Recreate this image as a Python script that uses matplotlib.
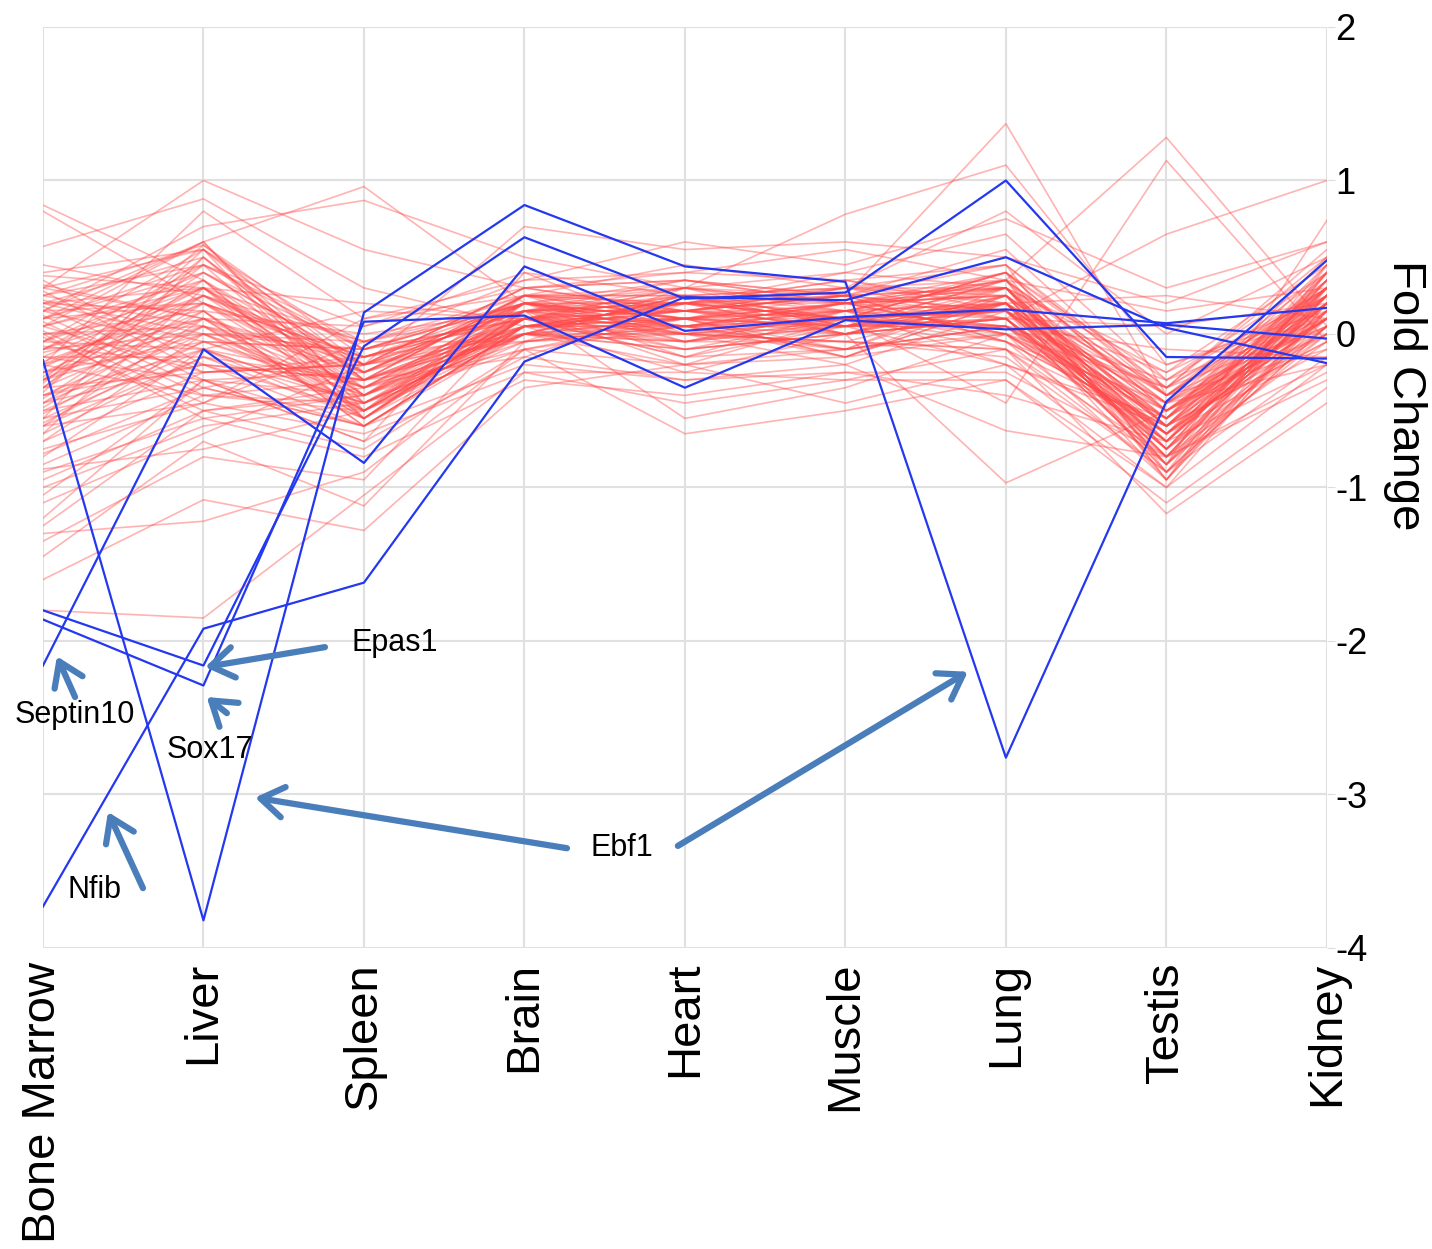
import matplotlib
matplotlib.use("Agg")
import matplotlib.pyplot as plt
import matplotlib.transforms as mtransforms

plt.rcParams['font.family'] = ['Liberation Sans', 'DejaVu Sans']

tissues = ["Bone Marrow", "Liver", "Spleen", "Brain", "Heart",
           "Muscle", "Lung", "Testis", "Kidney"]
y_ticks = [-4, -3, -2, -1, 0, 1, 2]

# highlighted genes (blue)
septin10 = [-2.16, -0.10, -0.84, 0.44, 0.02, 0.11, 0.16, 0.07, 0.17]
epas1 = [-1.80, -2.16, -0.08, 0.63, 0.23, 0.27, 1.00, -0.15, -0.16]
sox17 = [-1.86, -2.29, 0.08, 0.12, -0.35, 0.09, 0.03, 0.06, -0.03]
nfib = [-3.73, -1.92, -1.62, -0.18, 0.24, 0.22, 0.50, 0.04, -0.19]
ebf1 = [-0.17, -3.82, 0.14, 0.84, 0.44, 0.34, -2.76, -0.44, 0.48]

# background genes (red)
red_lines = [
    [0.84, 0.35, -0.55, 0.10, 0.05, 0.20, 0.30, -0.60, 0.20],
    [0.80, 0.20, -0.30, 0.25, 0.10, 0.05, 0.15, -0.70, 0.30],
    [0.57, 0.88, 0.30, 0.05, 0.20, 0.10, 0.40, -0.50, 0.10],
    [0.30, 1.00, 0.55, 0.30, 0.35, 0.25, 0.55, -0.40, 0.25],
    [0.10, 0.60, 0.96, 0.20, 0.15, 0.05, 0.20, -0.65, 0.05],
    [0.15, 0.70, 0.87, 0.50, 0.30, 0.40, 0.65, -0.30, 0.40],
    [-0.20, 0.80, 0.10, 0.35, 0.60, 0.45, 0.75, 0.30, 0.60],
    [0.05, 0.30, 0.20, 0.10, 0.30, 0.78, 1.10, -0.20, 0.10],
    [0.20, 0.15, 0.00, 0.15, 0.20, 0.25, 1.37, -0.40, 0.30],
    [-0.10, 0.25, -0.20, 0.30, 0.40, 0.55, 0.35, 1.28, 0.05],
    [-0.30, 0.00, -0.40, 0.05, 0.15, 0.10, -0.45, 1.13, -0.05],
    [0.25, 0.45, -0.10, 0.20, 0.10, 0.20, 0.10, 0.65, 1.00],
    [-0.40, -0.10, -0.30, 0.00, -0.10, 0.00, -0.97, -0.50, 0.10],
    [-0.55, -0.35, -0.60, -0.20, -0.30, -0.20, -0.63, -0.80, -0.30],
    [-1.80, -1.85, -1.05, -0.25, -0.45, -0.30, -0.10, -1.17, -0.45],
    [-1.30, -1.22, -0.90, -0.10, -0.65, -0.50, -0.30, -1.10, -0.35],
    [-1.60, -1.08, -1.28, -0.35, -0.20, -0.45, -0.20, -1.00, 0.20],
    [-1.45, -0.70, -1.12, -0.05, 0.05, -0.15, 0.20, -0.90, 0.40],
    [-1.35, -0.80, -0.95, 0.15, -0.55, -0.35, 0.00, -0.95, 0.15],
    [-1.20, -0.30, -0.70, 0.40, 0.00, 0.10, 0.30, -0.85, 0.74],
    [0.40, 0.55, -0.20, 0.70, 0.55, 0.60, 0.50, 0.20, 0.60],
    [-0.90, -0.55, -0.80, -0.30, -0.40, -0.25, -0.40, -0.70, -0.20],
    [-1.00, -0.60, -0.45, 0.00, 0.20, 0.35, 0.20, -0.60, 0.30],
    [-0.75, -0.45, 0.10, 0.25, 0.45, 0.30, 0.80, 0.00, 0.50],
    [0.30, 0.55, -0.10, 0.20, 0.10, 0.05, 0.25, -0.55, 0.30],
    [0.25, 0.58, -0.25, 0.10, -0.05, 0.15, 0.10, -0.70, 0.20],
    [0.20, 0.50, -0.30, 0.05, 0.20, 0.00, 0.30, -0.45, 0.10],
    [0.10, 0.45, -0.45, 0.15, 0.05, -0.10, 0.05, -0.80, 0.25],
    [0.05, 0.60, -0.50, 0.25, 0.25, 0.20, 0.35, -0.60, 0.35],
    [-0.05, 0.40, -0.20, 0.00, -0.10, 0.10, 0.20, -0.35, 0.05],
    [-0.10, 0.35, -0.35, 0.10, 0.15, 0.25, 0.15, -0.75, 0.40],
    [-0.15, 0.30, -0.55, 0.20, 0.00, -0.05, -0.10, -0.90, 0.15],
    [-0.20, 0.25, -0.40, -0.05, 0.30, 0.15, 0.40, -0.50, 0.20],
    [-0.25, 0.20, -0.15, 0.15, -0.20, -0.15, 0.00, -0.65, -0.10],
    [-0.30, 0.15, -0.60, 0.05, 0.10, 0.30, 0.25, -0.40, 0.30],
    [-0.35, 0.10, -0.25, 0.20, 0.20, 0.00, 0.10, -0.85, 0.00],
    [-0.40, 0.05, -0.50, 0.10, -0.15, 0.05, -0.20, -0.55, 0.25],
    [-0.45, 0.00, -0.35, -0.10, 0.05, 0.20, 0.30, -0.70, 0.45],
    [-0.50, -0.05, -0.10, 0.25, 0.25, 0.10, 0.05, -0.30, 0.10],
    [-0.55, -0.10, -0.45, 0.00, 0.00, -0.20, 0.15, -0.95, 0.20],
    [-0.60, -0.15, -0.55, 0.15, 0.15, 0.25, -0.05, -0.60, -0.05],
    [0.35, -0.20, -0.30, 0.05, -0.25, 0.00, 0.20, -0.45, 0.35],
    [0.28, -0.25, -0.20, -0.05, 0.10, 0.15, 0.35, -0.75, 0.15],
    [0.18, -0.30, -0.40, 0.20, 0.05, -0.10, 0.00, -0.50, 0.30],
    [0.12, -0.35, -0.15, 0.10, 0.30, 0.20, 0.25, -0.80, 0.05],
    [0.08, -0.40, -0.50, 0.00, -0.05, 0.05, 0.10, -0.65, 0.25],
    [0.02, -0.45, -0.05, 0.25, 0.20, 0.35, 0.45, -0.40, 0.40],
    [-0.02, -0.50, -0.35, 0.15, 0.00, -0.05, -0.15, -0.90, -0.15],
    [-0.08, -0.20, -0.60, 0.05, 0.10, 0.10, 0.15, -0.55, 0.10],
    [-0.12, 0.10, -0.20, 0.30, 0.35, 0.25, 0.30, -0.70, 0.20],
    [-0.18, 0.20, -0.45, -0.10, -0.20, -0.10, 0.05, -0.35, 0.30],
    [-0.22, 0.30, -0.30, 0.10, 0.15, 0.05, 0.20, -0.60, -0.05],
    [-0.28, 0.40, -0.10, 0.20, 0.05, 0.15, -0.05, -0.85, 0.25],
    [-0.32, 0.50, -0.40, 0.00, 0.25, 0.30, 0.35, -0.45, 0.15],
    [-0.38, 0.55, -0.55, 0.15, -0.10, 0.00, 0.10, -0.75, 0.35],
    [-0.42, 0.25, -0.25, 0.25, 0.10, -0.15, 0.25, -0.50, 0.00],
    [-0.48, 0.15, -0.50, 0.05, 0.20, 0.20, 0.00, -0.65, 0.20],
    [-0.52, 0.05, -0.15, 0.10, 0.00, 0.10, 0.40, -0.95, 0.45],
    [-0.58, -0.05, -0.35, 0.20, 0.30, 0.25, 0.15, -0.55, 0.10],
    [-0.65, -0.15, -0.45, 0.00, -0.05, -0.05, -0.10, -0.80, 0.30],
    [-0.70, -0.25, -0.20, 0.15, 0.15, 0.15, 0.20, -0.40, -0.10],
    [-0.78, -0.35, -0.60, 0.05, 0.05, 0.05, 0.05, -0.70, 0.25],
    [-0.85, -0.40, -0.30, -0.15, 0.20, 0.30, 0.30, -0.60, 0.15],
    [0.32, 0.10, 0.05, 0.30, 0.15, 0.10, 0.15, -0.50, 0.05],
    [0.22, 0.00, -0.10, 0.10, 0.00, 0.20, 0.40, -0.30, 0.30],
    [0.15, 0.20, -0.35, 0.00, 0.25, 0.00, 0.10, -0.75, 0.20],
    [0.00, 0.05, -0.25, 0.20, 0.10, 0.25, -0.05, -0.60, 0.40],
    [-0.05, -0.10, -0.45, 0.10, -0.15, -0.10, 0.25, -0.85, 0.10],
    [-0.10, 0.00, -0.05, -0.05, 0.05, 0.10, 0.15, -0.45, -0.20],
    [-0.15, -0.15, -0.30, 0.25, 0.20, 0.15, 0.30, -0.65, 0.25],
    [-0.20, 0.10, -0.55, 0.15, 0.35, 0.20, 0.00, -0.55, 0.35],
    [-0.25, -0.05, -0.40, 0.05, 0.00, -0.05, 0.20, -0.90, 0.05],
    [-0.30, 0.25, -0.15, 0.20, 0.10, 0.05, 0.35, -0.40, 0.20],
    [-0.35, 0.35, -0.50, 0.10, 0.25, 0.30, 0.10, -0.70, 0.30],
    [-0.40, -0.20, -0.30, 0.00, -0.20, 0.10, -0.10, -0.60, 0.15],
    [-0.45, 0.20, -0.20, 0.30, 0.15, 0.00, 0.25, -0.80, -0.05],
    [-0.10, 0.45, -0.05, 0.15, 0.20, 0.25, 0.45, -0.35, 0.50],
    [0.10, 0.40, -0.20, 0.05, -0.05, 0.15, 0.20, -0.65, 0.10],
    [0.20, 0.30, -0.40, 0.25, 0.30, 0.05, 0.05, -0.50, 0.25],
    [-0.05, 0.55, -0.30, 0.10, 0.10, -0.10, 0.30, -0.75, 0.35],
    [-0.30, 0.58, -0.15, 0.00, 0.05, 0.20, 0.15, -0.45, 0.00],
    [-0.60, 0.10, -0.35, 0.20, 0.20, 0.10, 0.00, -0.70, 0.20],
    [-0.70, 0.00, -0.50, 0.10, -0.10, 0.00, 0.25, -0.55, 0.45],
    [-0.50, -0.30, -0.25, 0.25, 0.15, 0.25, 0.10, -0.85, 0.15],
    [-0.20, -0.40, -0.45, 0.05, 0.05, 0.15, -0.20, -0.60, 0.30],
    [0.05, -0.25, -0.15, 0.15, 0.25, 0.05, 0.35, -0.40, 0.05],
    [0.25, 0.05, -0.55, 0.00, 0.10, -0.15, 0.20, -0.80, 0.25],
    [0.38, 0.30, -0.25, 0.20, -0.05, 0.10, 0.05, -0.65, 0.40],
    [-0.95, -0.50, -0.40, 0.10, 0.10, 0.20, 0.25, -0.50, 0.20],
    [-1.05, -0.30, -0.60, 0.00, 0.25, 0.05, 0.15, -0.75, 0.00],
    [-1.10, -0.65, -0.20, 0.20, -0.15, 0.15, 0.35, -0.95, 0.30],
    [-0.88, -0.75, -0.50, -0.05, 0.00, -0.10, 0.05, -0.55, 0.50],
    [0.45, 0.25, -0.05, 0.35, 0.40, 0.35, 0.15, -0.25, 0.25],
    [0.15, -0.10, 0.15, 0.10, 0.20, 0.40, 0.30, -0.20, 0.15],
    [-0.35, 0.45, 0.05, 0.40, 0.25, 0.10, 0.40, -0.35, 0.55],
    [-0.15, -0.30, -0.70, -0.15, -0.30, -0.25, -0.25, -0.80, -0.25],
    [-0.60, -0.45, -0.65, -0.25, -0.25, -0.30, -0.30, -1.00, -0.20],
    [0.00, 0.15, -0.60, 0.05, 0.15, 0.30, 0.45, -0.90, 0.05],
    [0.10, 0.20, -0.15, 0.15, 0.05, 0.10, 0.20, 0.25, 0.10],
    [-0.25, 0.05, -0.35, 0.00, 0.10, 0.20, 0.35, 0.15, 0.30],
    [0.20, -0.05, -0.10, 0.10, 0.25, 0.15, 0.05, -0.10, -0.15],
    [-0.45, -0.20, -0.50, 0.20, 0.00, 0.05, 0.10, 0.05, 0.20],
    [0.05, 0.35, -0.25, 0.05, 0.15, 0.25, 0.30, -0.25, 0.45],
    [-0.65, 0.30, -0.40, 0.15, 0.20, 0.10, 0.15, -0.65, 0.10],
    [-0.80, -0.10, -0.55, 0.10, 0.05, 0.00, 0.20, -0.80, 0.35],
    [0.15, 0.60, -0.45, 0.05, 0.10, 0.15, 0.05, -0.55, 0.20],
    [-0.35, -0.25, -0.20, 0.15, 0.30, 0.20, 0.25, -0.75, 0.05],
    [0.00, -0.55, -0.40, 0.10, 0.20, 0.10, -0.05, -0.45, 0.25],
    [-1.25, -0.50, -0.75, -0.10, 0.10, 0.00, 0.10, -0.65, 0.10],
    [-0.55, 0.50, -0.30, 0.25, -0.05, 0.05, 0.30, -0.85, 0.40],
    [0.30, 0.10, -0.50, 0.10, 0.15, 0.30, 0.20, -0.60, 0.00],
    [-0.05, 0.30, -0.05, 0.20, 0.35, 0.20, 0.00, -0.35, 0.25],
]

x = list(range(len(tissues)))

fig = plt.figure(figsize=(14.32, 12.49), dpi=100)
ax = fig.add_axes([0.030, 0.241, 0.8966, 0.7374])

for row in red_lines:
    ax.plot(x, row, color="#ff4a4a", alpha=0.42, lw=1.2, zorder=2)

for vals in [septin10, epas1, sox17, nfib, ebf1]:
    ax.plot(x, vals, color="#2438f0", lw=1.6, zorder=3)

ax.set_xlim(0, 8)
ax.set_ylim(-4, 2)
ax.set_xticks(x)
ax.set_xticklabels(tissues, rotation=90, fontsize=34, va="top", ha="center")
ax.set_yticks(y_ticks)
ax.set_yticklabels([str(t) for t in y_ticks], fontsize=26)
ax.yaxis.tick_right()
ax.tick_params(axis="y", length=6, color="#dddddd", pad=0)
ax.tick_params(axis="x", length=0, pad=10)
ax.grid(True, color="#e0e0e0", lw=1.5, zorder=0)
ax.set_axisbelow(True)
for s in ax.spines.values():
    s.set_visible(False)

trans = mtransforms.blended_transform_factory(ax.transAxes, ax.transData)
ax.text(1.061, -0.40, "Fold Change", rotation=270, fontsize=34,
        ha="center", va="center", transform=trans)

# annotations
arrow_kw = dict(arrowstyle="->,head_length=0.75,head_width=0.5", lw=4.5,
                color="#4a7ebb", shrinkA=0, shrinkB=0, mutation_scale=22)
ann_fs = 22
ax.text(2.19, -2.01, "Epas1", fontsize=ann_fs, ha="center", va="center")
ax.annotate("", xy=(1.01, -2.17), xytext=(1.757, -2.04), arrowprops=arrow_kw)
ax.text(0.20, -2.48, "Septin10", fontsize=ann_fs, ha="center", va="center")
ax.annotate("", xy=(0.087, -2.10), xytext=(0.20, -2.365), arrowprops=arrow_kw)
ax.text(1.04, -2.71, "Sox17", fontsize=ann_fs, ha="center", va="center")
ax.annotate("", xy=(1.02, -2.365), xytext=(1.146, -2.47), arrowprops=arrow_kw)
ax.text(0.324, -3.62, "Nfib", fontsize=ann_fs, ha="center", va="center")
ax.annotate("", xy=(0.405, -3.114), xytext=(0.623, -3.61), arrowprops=arrow_kw)
ax.text(3.607, -3.35, "Ebf1", fontsize=ann_fs, ha="center", va="center")
ax.annotate("", xy=(1.321, -3.02), xytext=(3.265, -3.35), arrowprops=arrow_kw)
ax.annotate("", xy=(5.763, -2.20), xytext=(3.956, -3.335), arrowprops=arrow_kw)

fig.savefig("out.png", dpi=100)
